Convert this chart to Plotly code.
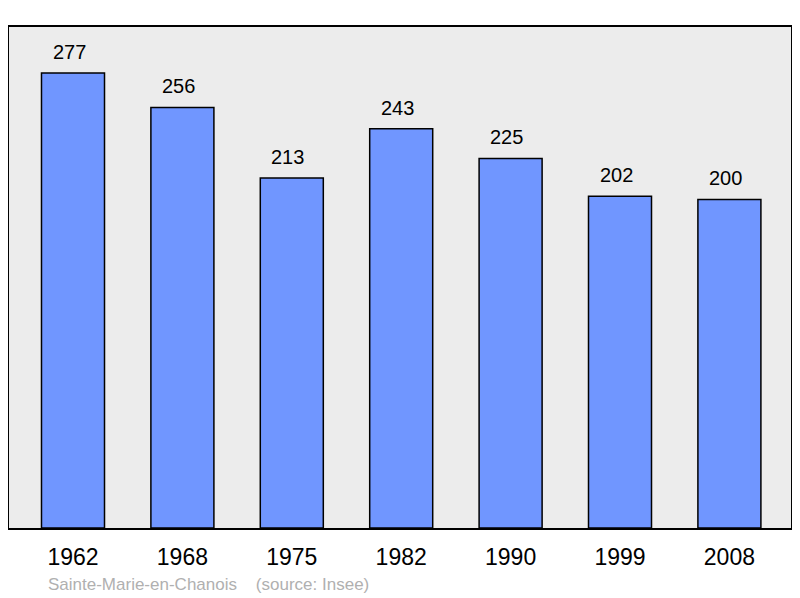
import plotly.graph_objects as go

years = ["1962", "1968", "1975", "1982", "1990", "1999", "2008"]
population = [277, 256, 213, 243, 225, 202, 200]
footer = "Sainte-Marie-en-Chanois    (source: Insee)"

xpos = list(range(len(years)))
FONT = "Liberation Sans, Arial, sans-serif"

fig = go.Figure()
fig.add_trace(go.Bar(
    x=xpos, y=population, width=0.576,
    marker=dict(color="#7096FF", line=dict(color="#000000", width=1.5)),
    hoverinfo="skip",
))

for x, v in zip(xpos, population):
    fig.add_annotation(x=x, y=v, text=str(v), showarrow=False,
                       yanchor="bottom", yshift=8, xshift=-4,
                       font=dict(family=FONT, size=20, color="#000000"))

fig.add_annotation(xref="paper", yref="paper", x=0.047, y=-0.112, xanchor="left", yanchor="middle",
                   text=footer.replace("    ", "&nbsp;&nbsp;&nbsp;&nbsp;"), showarrow=False,
                   font=dict(family=FONT, size=17, color="#B0B0B0"))

fig.update_layout(
    width=792, height=590,
    margin=dict(l=1, r=9, t=19, b=70),
    paper_bgcolor="#FFFFFF", plot_bgcolor="#ECECEC",
    showlegend=False,
    xaxis=dict(range=[-0.585, 6.563], tickmode="array", tickvals=xpos, ticktext=years,
               showgrid=False, zeroline=False, showline=True, mirror=True,
               linecolor="#000000", linewidth=2, ticks="", ticklabelstandoff=7,
               tickfont=dict(family=FONT, size=23, color="#000000")),
    yaxis=dict(range=[0, 305], showgrid=False, zeroline=False, showticklabels=False,
               showline=True, mirror=True, linecolor="#000000", linewidth=2, ticks=""),
)

fig.write_html("out.html")
